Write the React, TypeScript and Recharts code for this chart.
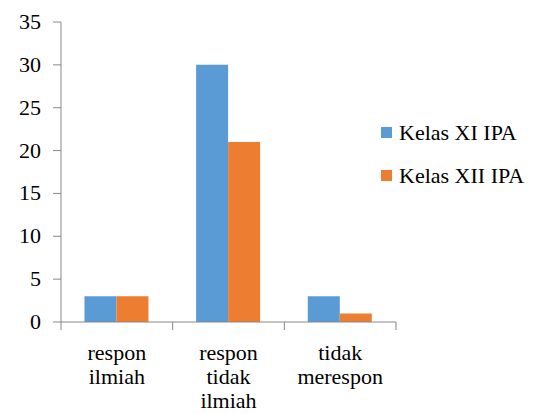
import React from "react";
import { BarChart, Bar, XAxis, YAxis, Legend } from "recharts";

const categories = [["respon", "ilmiah"], ["respon", "tidak", "ilmiah"], ["tidak", "merespon"]];
const kelasXI = [3, 30, 3];
const kelasXII = [3, 21, 1];
const yTicks = [0, 5, 10, 15, 20, 25, 30, 35];
const boundTicks = [0, 1, 2, 3];
const seriesNames = ["Kelas XI IPA", "Kelas XII IPA"];
const colors = ["#5B9BD5", "#ED7D31"];

const data = categories.map((c, i) => ({
  name: c.join(" "),
  pos: i + 0.5,
  xi: kelasXI[i],
  xii: kelasXII[i],
}));

const FONT = '"Liberation Serif", "Times New Roman", Tinos';
const FS = 22;
const AXIS = "#888888";

const CatTick = (props: any) => {
  const { x, y, payload } = props;
  const lines = categories[payload.index] || [payload.value];
  return (
    <text x={x} y={y} textAnchor="middle" fontSize={FS} fill="#000" style={{ fontFamily: FONT }}>
      {lines.map((l: string, i: number) => (
        <tspan key={i} x={x} dy={i === 0 ? 37 : 24}>
          {l}
        </tspan>
      ))}
    </text>
  );
};

const YTick = (props: any) => {
  const { x, y, payload } = props;
  return (
    <text x={x} y={y} dy={7} textAnchor="end" fontSize={FS} fill="#000" style={{ fontFamily: FONT }}>
      {payload.value}
    </text>
  );
};

const NoLabel = () => <g />;

const renderLegend = (props: any) => {
  const { payload } = props;
  return (
    <div style={{ fontSize: FS, color: "#000", fontFamily: FONT }}>
      {(payload || []).map((p: any, i: number) => (
        <div key={i} style={{ height: 43, display: "flex", alignItems: "center" }}>
          <span style={{ width: 11, height: 11, background: p.color, display: "inline-block", marginRight: 7 }} />
          <span style={{ fontFamily: FONT }}>{p.value}</span>
        </div>
      ))}
    </div>
  );
};

const css = `body{margin:0;background:#fff;font-family:${FONT}}`;

export default function App() {
  return (
    <div style={{ fontFamily: FONT }}>
      <style>{css}</style>
      <BarChart
        width={539}
        height={414}
        data={data}
        margin={{ top: 22, right: 143, left: 0, bottom: 0 }}
        barCategoryGap="21%"
        barGap={0}
        style={{ fontFamily: FONT }}
      >
        <XAxis
          xAxisId="bound"
          dataKey="pos"
          type="number"
          domain={[0, 3]}
          ticks={boundTicks}
          interval={0}
          allowDataOverflow
          height={1}
          tick={<NoLabel />}
          tickSize={8}
          stroke={AXIS}
          axisLine={{ stroke: AXIS }}
          tickLine={{ stroke: AXIS }}
        />
        <XAxis
          xAxisId="cat"
          dataKey="name"
          height={91}
          axisLine={false}
          tickLine={false}
          tickSize={0}
          tickMargin={0}
          interval={0}
          tick={<CatTick />}
        />
        <YAxis
          width={61}
          domain={[0, 35]}
          ticks={yTicks}
          interval={0}
          tickSize={8}
          tickMargin={12}
          stroke={AXIS}
          tick={<YTick />}
        />
        <Legend
          layout="vertical"
          align="center"
          verticalAlign="middle"
          content={renderLegend}
          wrapperStyle={{ position: "absolute", left: 381, top: 111, width: 158 }}
        />
        <Bar xAxisId="cat" dataKey="xi" name={seriesNames[0]} fill={colors[0]} isAnimationActive={false} />
        <Bar xAxisId="cat" dataKey="xii" name={seriesNames[1]} fill={colors[1]} isAnimationActive={false} />
      </BarChart>
    </div>
  );
}
